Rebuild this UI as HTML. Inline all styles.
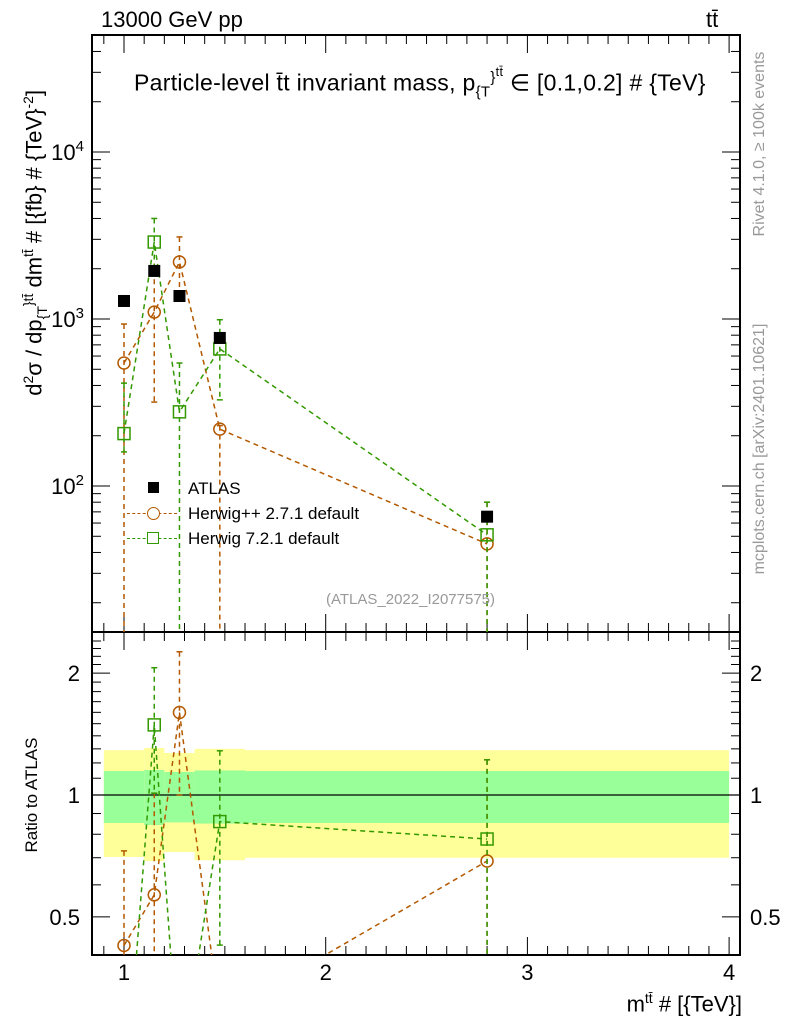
<!DOCTYPE html>
<html><head><meta charset="utf-8"><style>
html,body{margin:0;padding:0;background:#fff;width:786px;height:1024px;overflow:hidden}
#wrap{position:relative;width:786px;height:1024px;overflow:hidden}
svg{font-family:"Liberation Sans",sans-serif;display:block;position:absolute;left:0;top:0}
</style></head><body>
<div id="wrap">
<svg id="c" width="786" height="1024" xmlns="http://www.w3.org/2000/svg"></svg>
<div style="position:absolute;left:0;top:0;width:786px;height:1024px;overflow:hidden;font-family:'Liberation Sans',sans-serif;pointer-events:none">
<div style="position:absolute;left:101px;top:7px;font-size:22px">13000 GeV pp</div>
<div style="position:absolute;left:706px;top:7px;font-size:22px">tt̄</div>
<div style="position:absolute;left:134px;top:65px;font-size:23px;letter-spacing:0.3px;white-space:nowrap">Particle-level t̄t invariant mass, p<sub style="font-size:15px">{T</sub><sup style="font-size:15px">}<sup>tt̄</sup></sup> ∈ [0.1,0.2] # {TeV}</div>
<div style="position:absolute;left:-200px;top:228px;width:470px;transform:rotate(-90deg);text-align:center;font-size:22px;white-space:nowrap">d<sup style="font-size:14px">2</sup>σ / dp<sub style="font-size:14px">{T</sub><sup style="font-size:14px">}tt̄</sup> dm<sup style="font-size:14px">tt̄</sup> # [{fb} # {TeV}<sup style="font-size:14px">-2</sup>]</div>
<div style="position:absolute;left:-48px;top:785px;width:160px;transform:rotate(-90deg);text-align:center;font-size:17px">Ratio to ATLAS</div>
<div style="position:absolute;right:44px;top:985px;font-size:22px;line-height:26px">m<sup style="font-size:14px">tt̄</sup> # [{TeV}]</div>
<div style="position:absolute;left:650px;top:135px;width:220px;transform:rotate(-90deg);text-align:center;font-size:16px;color:#999">Rivet 4.1.0, ≥ 100k events</div>
<div style="position:absolute;left:610px;top:440px;width:300px;transform:rotate(-90deg);text-align:center;font-size:16px;color:#999">mcplots.cern.ch [arXiv:2401.10621]</div>
<div style="position:absolute;left:326px;top:591px;font-size:15px;color:#999">(ATLAS_2022_I2077575)</div>
<div style="position:absolute;left:120px;top:476px;font-size:17px;line-height:25px">
<div style="position:relative;padding-left:68px"><span style="position:absolute;left:28px;top:6px;width:11px;height:11px;background:#000"></span>ATLAS</div>
<div style="position:relative;padding-left:68px"><span style="position:absolute;left:7px;top:12px;width:50px;border-top:1.5px dashed #b35900"></span><span style="position:absolute;left:27px;top:6px;width:11px;height:11px;border:1.5px solid #b35900;border-radius:50%;background:#fff"></span>Herwig++ 2.7.1 default</div>
<div style="position:relative;padding-left:68px"><span style="position:absolute;left:7px;top:12px;width:50px;border-top:1.5px dashed #339900"></span><span style="position:absolute;left:27px;top:6px;width:10px;height:10px;border:1.5px solid #339900;background:#fff"></span>Herwig 7.2.1 default</div>
</div>
</div>
</div>
<script>
const categories=[1.0,1.15,1.275,1.475,2.8];
const binLo=[0.9,1.1,1.2,1.35,1.6];
const binHi=[1.1,1.2,1.35,1.6,4.0];
const atlas=[1282,1940,1373,770,65.5];
const herwigpp=[545,1100,2195,219,45];
const herwigppUp=[933,1960,3100,230,80];
const herwigppDn=[10,318,1373,10,10];
const herwig7=[206,2890,278,662,51];
const herwig7Up=[413,4000,545,990,80];
const herwig7Dn=[160,1960,10,328,10];
const yellowUp=[1.29,1.306,1.27,1.30,1.29];
const yellowDn=[0.703,0.687,0.723,0.69,0.70];
const greenUp=[1.146,1.153,1.14,1.15,1.146];
const greenDn=[0.853,0.843,0.856,0.85,0.853];
const xTicks=[1,2,3,4];
const yTicks=[100,1000,10000];
const rTicks=[0.5,1,2];

const NS="http://www.w3.org/2000/svg";
const svg=document.getElementById('c');
const L=92,R=740,T=35,M=632,B=955;
const X=v=>124+(v-1)*201.7;
const Y=v=>319-167*Math.log10(v/1000);
const RY=v=>795-405*Math.log10(v);
function mk(tag,a,parent){const e=document.createElementNS(NS,tag);for(const k in a)e.setAttribute(k,a[k]);(parent||svg).appendChild(e);return e;}
function clip(id,y1,y2){const d=mk('clipPath',{id:id});mk('rect',{x:L,y:y1,width:R-L,height:y2-y1},d);}
clip('cm',T,M);clip('cr',M,B);
for(let i=0;i<categories.length;i++){
 const y=mk('rect',{x:X(binLo[i]),y:RY(yellowUp[i]),width:X(binHi[i])-X(binLo[i]),height:RY(yellowDn[i])-RY(yellowUp[i]),fill:'#ffff99'});
 
 
 const g=mk('rect',{x:X(binLo[i]),y:RY(greenUp[i]),width:X(binHi[i])-X(binLo[i]),height:RY(greenDn[i])-RY(greenUp[i]),fill:'#99ff99'});
 
 
}
mk('line',{x1:L,x2:R,y1:RY(1),y2:RY(1),stroke:'#000','stroke-width':1.2});
mk('rect',{x:L,y:T,width:R-L,height:M-T,fill:'none',stroke:'#000','stroke-width':2});
mk('rect',{x:L,y:M,width:R-L,height:B-M,fill:'none',stroke:'#000','stroke-width':2});
for(let d=1;d<=5;d++)for(let m=1;m<10;m++){const v=Math.pow(10,d)*m;const y=Y(v);if(y<T||y>M)continue;const len=m==1?18:9;
 mk('line',{x1:L,x2:L+len,y1:y,y2:y,stroke:'#000'});mk('line',{x1:R-len,x2:R,y1:y,y2:y,stroke:'#000'});}
yTicks.forEach(v=>{const t=mk('text',{x:L-8,y:Y(v)+8,'text-anchor':'end','font-size':22});t.innerHTML='10<tspan dy="-9" font-size="15">'+Math.round(Math.log10(v))+'</tspan>';
 });
for(let v=0.4;v<=2.5;v+=0.1){const y=RY(v);if(y<M||y>B)continue;const major=[0.5,1,2].some(t=>Math.abs(t-v)<1e-6);const len=major?18:9;
 mk('line',{x1:L,x2:L+len,y1:y,y2:y,stroke:'#000'});mk('line',{x1:R-len,x2:R,y1:y,y2:y,stroke:'#000'});}
rTicks.forEach(v=>{const a=mk('text',{x:L-12,y:RY(v)+8,'text-anchor':'end','font-size':22});a.textContent=v;
 const b=mk('text',{x:R+10,y:RY(v)+8,'font-size':22});b.textContent=v;});
for(let v=0.9;v<=4.01;v+=0.1){const x=X(v);const major=Math.abs(v-Math.round(v))<1e-6;const len=major?18:9;
 mk('line',{x1:x,x2:x,y1:B-len,y2:B,stroke:'#000'});mk('line',{x1:x,x2:x,y1:M-len,y2:M,stroke:'#000'});mk('line',{x1:x,x2:x,y1:T,y2:T+len,stroke:'#000'});mk('line',{x1:x,x2:x,y1:M,y2:M+len,stroke:'#000'});}
xTicks.forEach(v=>{const t=mk('text',{x:X(v),y:B+25,'text-anchor':'middle','font-size':22});t.textContent=v;});
const gm=mk('g',{'clip-path':'url(#cm)'});const gr=mk('g',{'clip-path':'url(#cr)'});
function series(vals,up,dn,col,shape,name){
 [[gm,vals,up,dn,Y],[gr,vals.map((v,i)=>v/atlas[i]),up.map((v,i)=>v/atlas[i]),dn.map((v,i)=>v/atlas[i]),RY]].forEach(([g,vs,u,d,F])=>{
  const pts=vs.map((v,i)=>X(categories[i])+','+F(v)).join(' ');
  const pl=mk('polyline',{points:pts,fill:'none',stroke:col,'stroke-width':1.5,'stroke-dasharray':'5,4'},g);
  
  vs.forEach((v,i)=>{const x=X(categories[i]);
   mk('line',{x1:x,x2:x,y1:F(u[i]),y2:Math.min(F(d[i]),1000),stroke:col,'stroke-width':1.5,'stroke-dasharray':'5,4'},g);
   mk('line',{x1:x-3,x2:x+3,y1:F(u[i]),y2:F(u[i]),stroke:col,'stroke-width':1.5},g);
   mk('line',{x1:x-3,x2:x+3,y1:Math.min(F(d[i]),1000),y2:Math.min(F(d[i]),1000),stroke:col,'stroke-width':1.5},g);
   let m;
   if(shape=='c')m=mk('circle',{cx:x,cy:F(v),r:6,fill:'none',stroke:col,'stroke-width':1.5},g);
   else m=mk('rect',{x:x-6,y:F(v)-6,width:12,height:12,fill:'none',stroke:col,'stroke-width':1.5},g);
   
  });});
}
series(herwigpp,herwigppUp,herwigppDn,'#b35900','c','herwigpp');
series(herwig7,herwig7Up,herwig7Dn,'#339900','s','herwig7');
atlas.forEach((v,i)=>{const m=mk('rect',{x:X(categories[i])-6,y:Y(v)-6,width:12,height:12,fill:'#000'},gm);
 });
</script>
</body></html>
